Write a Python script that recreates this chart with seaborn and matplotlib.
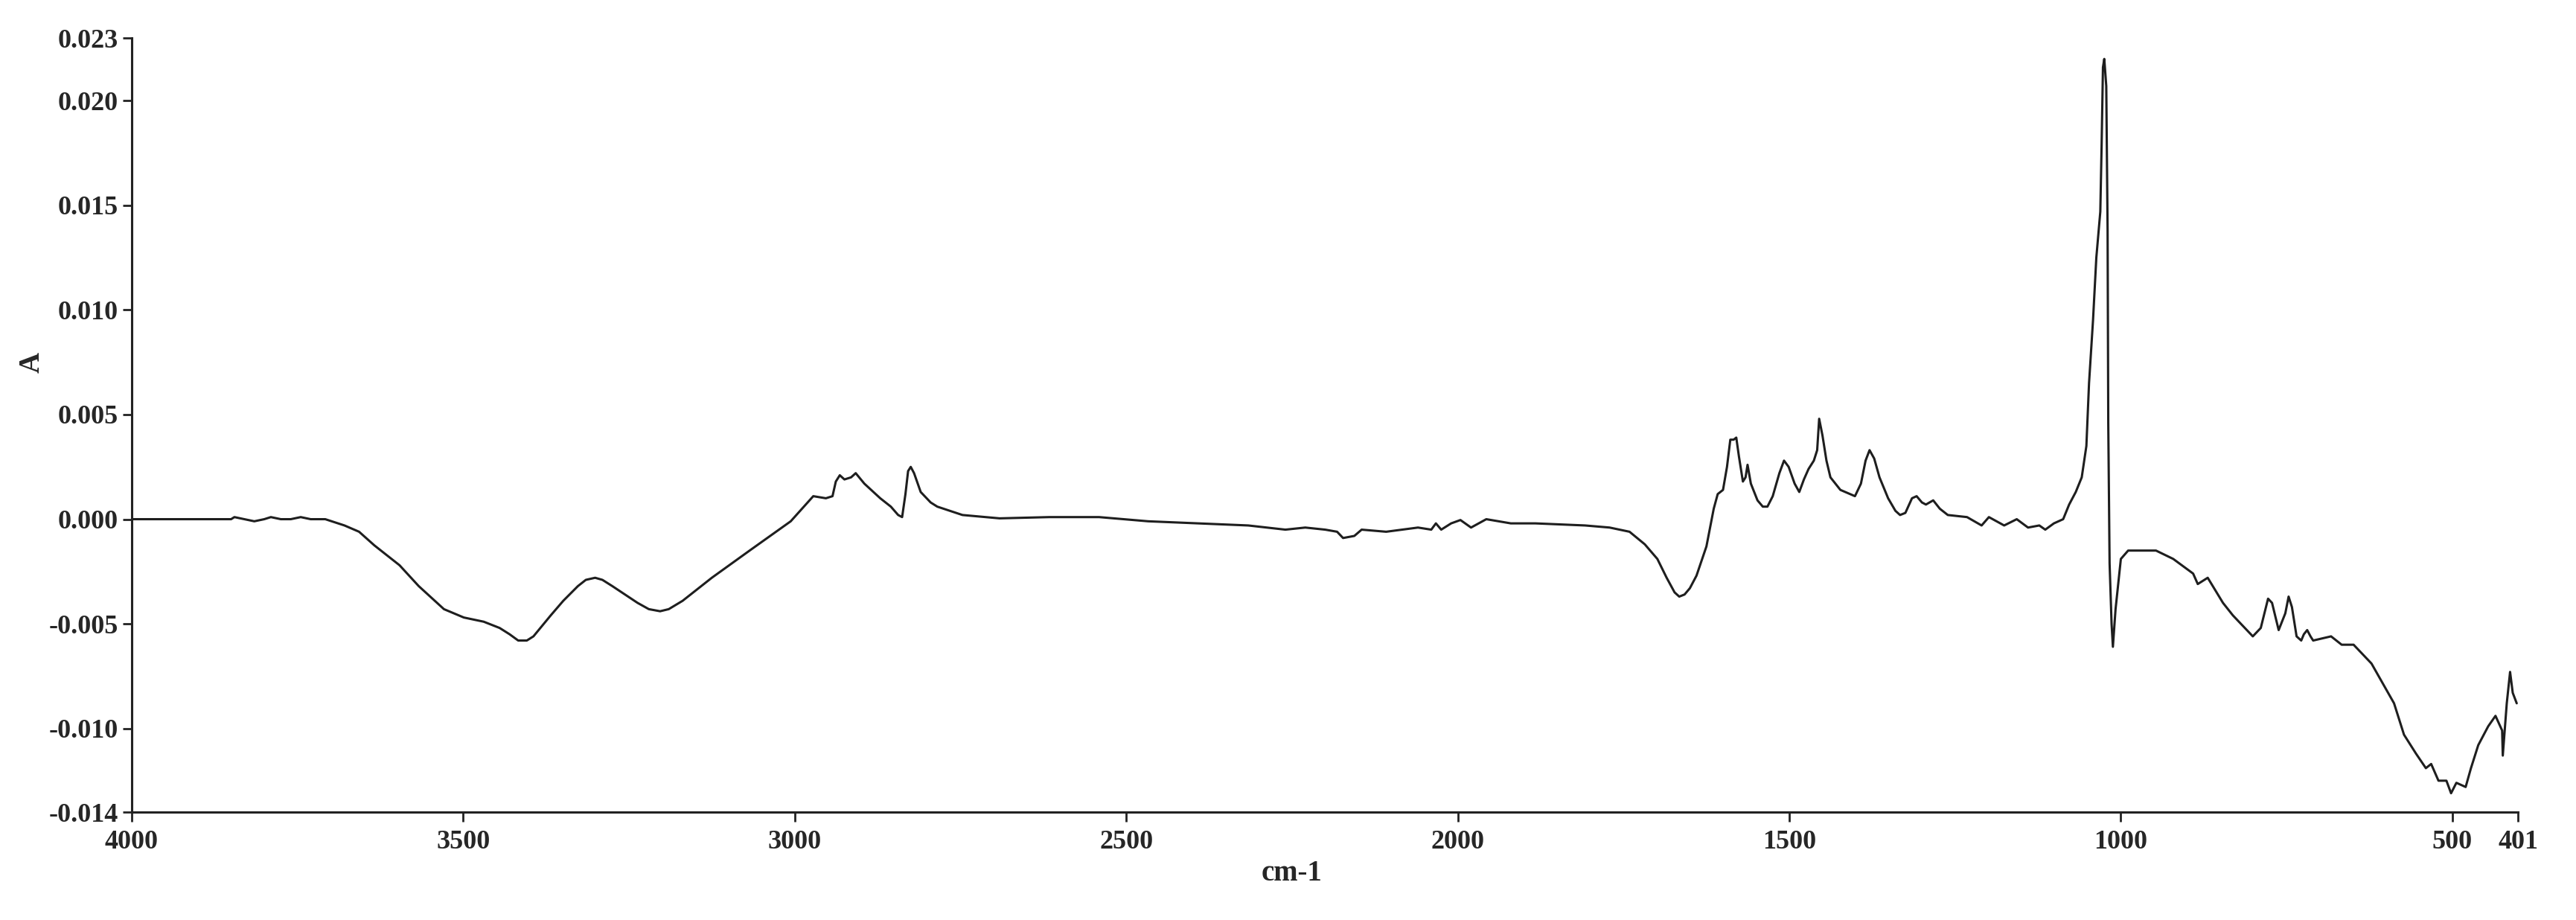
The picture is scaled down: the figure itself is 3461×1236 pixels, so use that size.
import matplotlib
matplotlib.use("Agg")
import matplotlib.pyplot as plt
import seaborn as sns

# wavenumber (cm-1) and absorbance, line by line in matching groups
wavenumber = [4000, 3950, 3900, 3850, 3845, 3830, 3815, 3800, 3790, 3775, 3760, 3745,
              3730, 3708, 3679, 3657, 3634, 3612, 3596, 3567, 3529, 3499, 3469, 3445,
              3430, 3417, 3404, 3394, 3368, 3349, 3327, 3315, 3301, 3290, 3275, 3237,
              3220, 3203, 3190, 3169, 3125, 3068, 3006, 2972, 2953, 2943, 2938, 2932,
              2925, 2915, 2908, 2895, 2871, 2855, 2844, 2838, 2833, 2829, 2825, 2820,
              2810, 2795, 2785, 2747, 2691, 2616, 2541, 2467, 2392, 2316, 2260, 2230,
              2200, 2182, 2173, 2156, 2145, 2108, 2060, 2040, 2033, 2025, 2010, 1996,
              1980, 1957, 1920, 1883, 1808, 1771, 1741, 1718, 1699, 1685, 1673, 1666,
              1658, 1650, 1640, 1625, 1614, 1608, 1600, 1594, 1589, 1584, 1580, 1576,
              1570, 1566, 1563, 1558, 1548, 1540, 1533, 1525, 1515, 1508, 1501, 1492,
              1485, 1478, 1471, 1463, 1458, 1455, 1450, 1444, 1438, 1423, 1401, 1392,
              1385, 1379, 1372, 1364, 1351, 1340, 1333, 1325, 1315, 1308, 1300, 1294,
              1283, 1273, 1261, 1232, 1210, 1199, 1176, 1157, 1140, 1123, 1114, 1101,
              1087, 1078, 1068, 1059, 1052, 1048, 1042, 1037, 1031, 1029, 1027, 1025,
              1022, 1020, 1019, 1017, 1014, 1012, 1008, 1000, 989, 966, 947, 921,
              891, 884, 869, 846, 831, 810, 801, 789, 782, 778, 772, 762,
              752, 747, 742, 735, 728, 724, 719, 714, 710, 683, 667, 649,
              622, 588, 573, 555, 540, 532, 521, 509, 502, 494, 487, 480,
              472, 461, 446, 435, 425, 424, 418, 413, 409, 403]
absorbance = [0.0, 0.0, 0.0, 0.0, 0.0001, 0.0, -0.0001, 0.0, 0.0001, 0.0, 0.0, 0.0001,
              0.0, 0.0, -0.0003, -0.0006, -0.00125, -0.0018, -0.0022, -0.0032, -0.0043, -0.0047, -0.0049, -0.0052,
              -0.0055, -0.0058, -0.0058, -0.0056, -0.0046, -0.0039, -0.0032, -0.0029, -0.0028, -0.0029, -0.0032, -0.0040,
              -0.0043, -0.0044, -0.0043, -0.0039, -0.0028, -0.0015, -0.0001, 0.0011, 0.0010, 0.0011, 0.0018, 0.0021,
              0.0019, 0.0020, 0.0022, 0.0017, 0.0010, 0.0006, 0.0002, 0.0001, 0.0012, 0.0023, 0.0025, 0.0022,
              0.0013, 0.0008, 0.0006, 0.0002, 0.00004, 0.0001, 0.0001, -0.0001, -0.0002, -0.0003, -0.0005, -0.0004,
              -0.0005, -0.0006, -0.0009, -0.0008, -0.0005, -0.0006, -0.0004, -0.0005, -0.0002, -0.0005, -0.0002, -0.00004,
              -0.0004, 0.0, -0.0002, -0.0002, -0.0003, -0.0004, -0.0006, -0.0012, -0.0019, -0.0028, -0.0035, -0.0037,
              -0.0036, -0.0033, -0.0027, -0.0013, 0.0005, 0.0012, 0.0014, 0.0025, 0.0038, 0.0038, 0.0039, 0.0030,
              0.0018, 0.0020, 0.0026, 0.0017, 0.0009, 0.0006, 0.0006, 0.0011, 0.0022, 0.0028, 0.0025, 0.0017,
              0.0013, 0.0019, 0.0024, 0.0028, 0.0033, 0.0048, 0.0040, 0.0028, 0.0020, 0.0014, 0.0011, 0.0017,
              0.0028, 0.0033, 0.0029, 0.0020, 0.0010, 0.0004, 0.0002, 0.0003, 0.0010, 0.0011, 0.0008, 0.0007,
              0.0009, 0.0005, 0.0002, 0.0001, -0.0003, 0.0001, -0.0003, 0.0, -0.0004, -0.0003, -0.0005, -0.0002,
              0.0, 0.0007, 0.0013, 0.0020, 0.0035, 0.0065, 0.0095, 0.0125, 0.0147, 0.0179, 0.0216, 0.0220,
              0.0207, 0.0138, 0.0046, -0.0021, -0.0050, -0.0061, -0.0043, -0.0019, -0.0015, -0.0015, -0.0015, -0.0019,
              -0.0026, -0.0031, -0.0028, -0.0040, -0.0046, -0.0053, -0.0056, -0.0052, -0.0043, -0.0038, -0.0040, -0.0053,
              -0.0045, -0.0037, -0.0042, -0.0056, -0.0058, -0.0055, -0.0053, -0.0056, -0.0058, -0.0056, -0.0060, -0.0060,
              -0.0069, -0.0088, -0.0103, -0.0112, -0.0119, -0.0117, -0.0125, -0.0125, -0.0131, -0.0126, -0.0127, -0.0128,
              -0.0119, -0.0108, -0.0099, -0.0094, -0.0101, -0.0113, -0.0088, -0.0073, -0.0083, -0.0088]

yticks = [0.023, 0.020, 0.015, 0.010, 0.005, 0.000, -0.005, -0.010, -0.014]
xticks = [4000, 3500, 3000, 2500, 2000, 1500, 1000, 500, 401]

sns.set_style("ticks")
plt.rcParams['font.family'] = ['Liberation Serif', 'DejaVu Serif']

fig = plt.figure(figsize=(34.61, 12.36), dpi=100)
ax = fig.add_axes([0.0511, 0.1173, 0.9264, 0.8414])

sns.lineplot(x=wavenumber, y=absorbance, ax=ax, color='#1e1e1e', linewidth=2.2,
             estimator=None, sort=False)

ax.set_xlim(4000, 401)
ax.set_ylim(-0.014, 0.023)
ax.set_xticks(xticks)
ax.set_xticklabels([str(t) for t in xticks])
ax.set_yticks(yticks)
ax.set_yticklabels(['%.3f' % t for t in yticks])

for lab in ax.get_xticklabels() + ax.get_yticklabels():
    lab.set_fontweight('bold')
ax.tick_params(axis='both', labelsize=26, length=9, width=2, color='#222222', direction='out')
ax.tick_params(axis='x', pad=8)
ax.tick_params(axis='y', pad=4)

sns.despine(ax=ax)
for side in ['left', 'bottom']:
    ax.spines[side].set_linewidth(2.2)
    ax.spines[side].set_color('#222222')

ax.set_xlabel('cm-1', fontsize=28, fontweight='bold')
ax.set_ylabel('A', fontsize=28, fontweight='bold')
ax.xaxis.set_label_coords(0.486, -0.062)
ax.yaxis.set_label_coords(-0.036, 0.581)

fig.savefig('out.png', dpi=100)
